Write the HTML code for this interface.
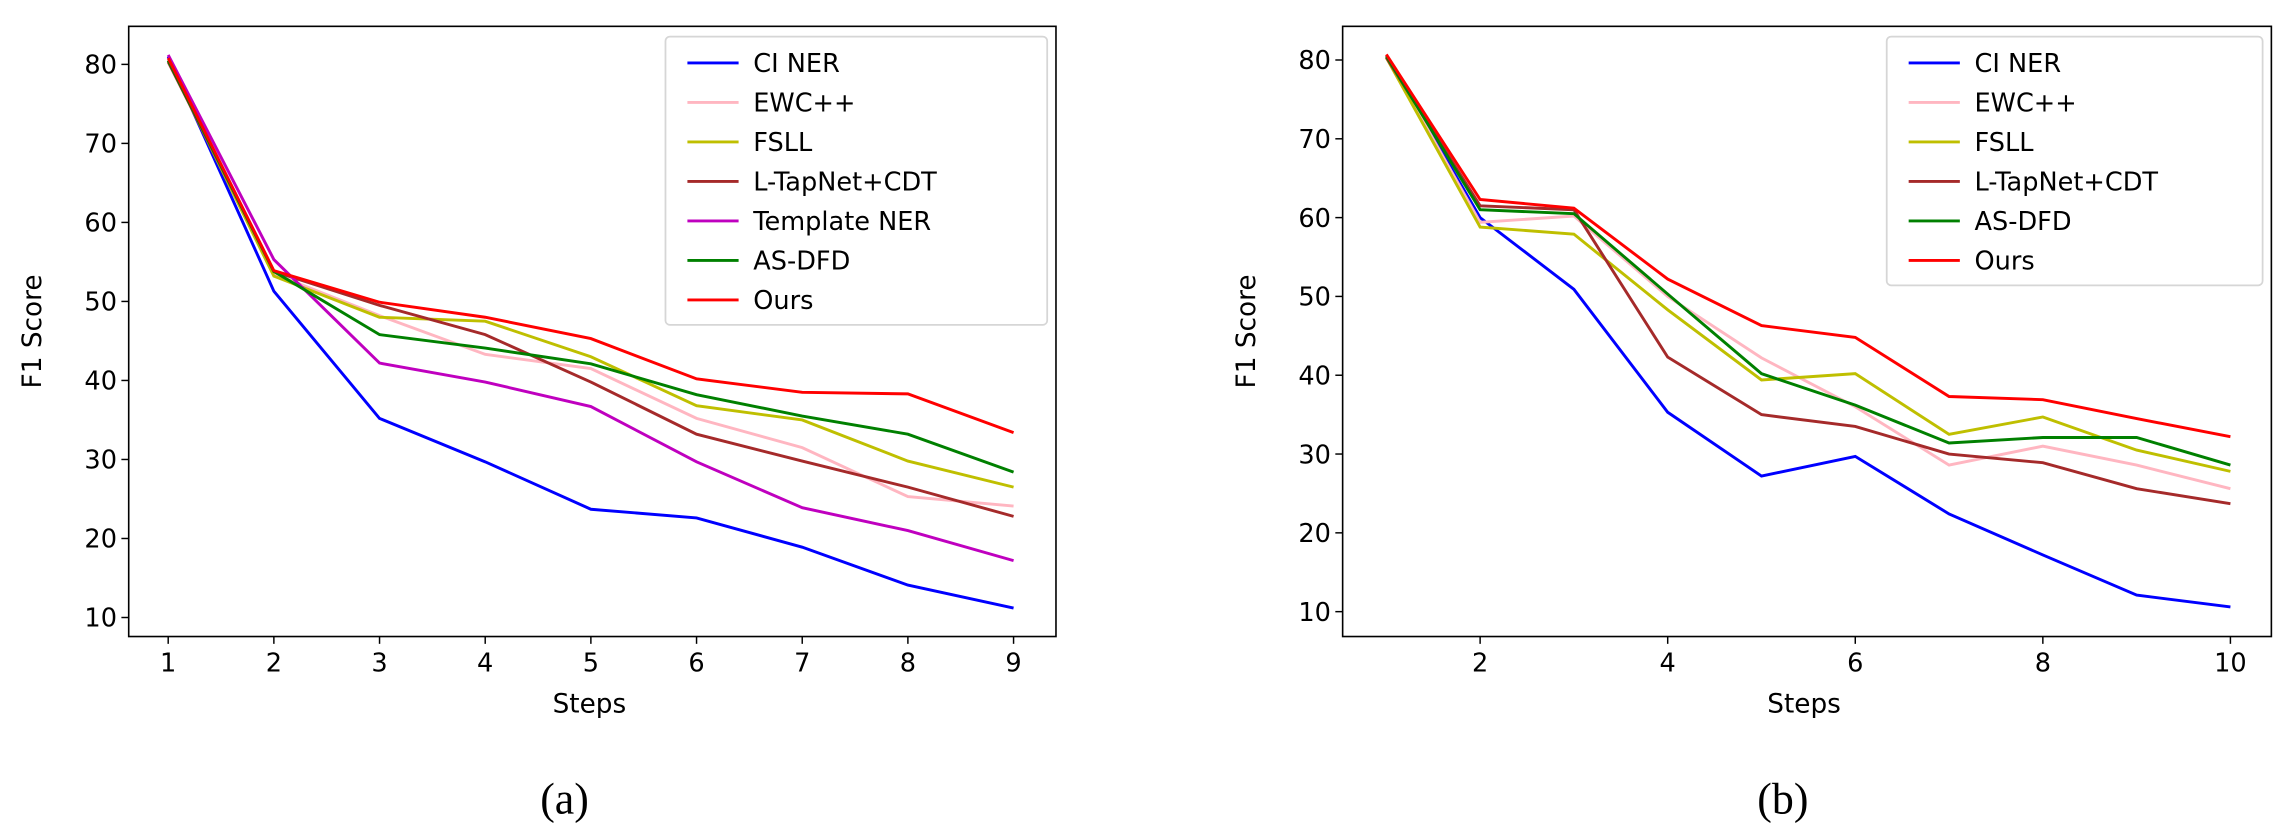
<!DOCTYPE html>
<html><head><meta charset="utf-8"><style>
html,body{margin:0;padding:0;background:#fff;}
svg{display:block;}
text{font-family:"DejaVu Sans","Liberation Sans",sans-serif;fill:#000;}
</style></head><body>
<svg id="fig" width="2286" height="837" viewBox="0 0 1563 572" preserveAspectRatio="none" xmlns="http://www.w3.org/2000/svg"></svg>
<script>
const seriesNames = ["CI NER","EWC++","FSLL","L-TapNet+CDT","Template NER","AS-DFD","Ours"];
const seriesColors = ["#0000ff","#ffb6c1","#bfbf00","#a52a2a","#bf00bf","#008000","#ff0000"];
const stepsA = [1,2,3,4,5,6,7,8,9];
const valuesA_CI = [81,51.3,35.2,29.7,23.7,22.6,18.9,14.1,11.2];
const valuesA_EWC = [80.5,53.5,48.2,43.3,41.5,35.2,31.5,25.3,24.1];
const valuesA_FSLL = [80.5,53.2,48,47.5,43,36.8,35,29.8,26.5];
const valuesA_LTap = [80.3,53.8,49.5,45.8,39.8,33.2,29.8,26.5,22.8];
const valuesA_Tmpl = [81.2,55.3,42.2,39.8,36.7,29.7,23.9,21,17.2];
const valuesA_ASDFD = [80.5,53.8,45.8,44.1,42.1,38.2,35.5,33.2,28.4];
const valuesA_Ours = [80.8,53.9,49.9,48,45.3,40.2,38.5,38.3,33.4];
const stepsB = [1,2,3,4,5,6,7,8,9,10];
const valuesB_CI = [80.5,60,50.9,35.3,27.2,29.7,22.4,17.2,12.1,10.6];
const valuesB_EWC = [80.5,59.4,60.2,50,42.2,36,28.6,31,28.6,25.6];
const valuesB_FSLL = [80.3,58.8,57.9,48.3,39.4,40.2,32.5,34.7,30.5,27.8];
const valuesB_LTap = [80.3,61.5,61,42.3,35,33.5,30,28.9,25.6,23.7];
const valuesB_ASDFD = [80.5,61,60.5,50.3,40.2,36.2,31.4,32.1,32.1,28.6];
const valuesB_Ours = [80.7,62.3,61.2,52.2,46.3,44.8,37.3,36.9,34.5,32.2];
const xTicksA = [1,2,3,4,5,6,7,8,9];
const xTicksB = [2,4,6,8,10];
const yTicks = [10,20,30,40,50,60,70,80];

const NS="http://www.w3.org/2000/svg";
const svg=document.getElementById('fig');
function mk(tag,attrs,parent){const e=document.createElementNS(NS,tag);for(const k in attrs)e.setAttribute(k,attrs[k]);(parent||svg).appendChild(e);return e;}

function panel(cfg){
  const g=mk('g',{});
  
  
  const xs=v=>cfg.x0px+(v-cfg.x0v)*(cfg.x1px-cfg.x0px)/(cfg.x1v-cfg.x0v);
  const ys=v=>cfg.y10+(v-10)*(cfg.y80-cfg.y10)/70;
  cfg.series.forEach((s,i)=>{
    const d=s.vals.map((v,j)=>(j?'L':'M')+xs(cfg.steps[j]).toFixed(2)+' '+ys(v).toFixed(2)).join(' ');
    const p=mk('path',{d:d,fill:'none',stroke:s.color,'stroke-width':2,'stroke-linejoin':'miter'},g);
    
    
  });
  const fr=mk('rect',{x:cfg.L,y:cfg.T,width:cfg.R-cfg.L,height:cfg.B-cfg.T,fill:'none',stroke:'#000','stroke-width':1.1},g);
  
  
  cfg.xTicks.forEach(t=>{
    const x=xs(t);
    mk('line',{x1:x,x2:x,y1:cfg.B,y2:cfg.B+5,stroke:'#000','stroke-width':1},g);
    const tx=mk('text',{x:x,y:cfg.B+24,'font-size':17.5,'text-anchor':'middle'},g);
    tx.textContent=t;
    
    
  });
  yTicks.forEach(t=>{
    const y=ys(t);
    mk('line',{x1:cfg.L,x2:cfg.L-5,y1:y,y2:y,stroke:'#000','stroke-width':1},g);
    const tx=mk('text',{x:cfg.L-8,y:y+6.3,'font-size':17.5,'text-anchor':'end'},g);
    tx.textContent=t;
    
    
  });
  const xl=mk('text',{x:(cfg.L+cfg.R)/2-2,y:487,'font-size':18,'text-anchor':'middle'},g);
  xl.textContent='Steps';
  
  
  const yl=mk('text',{x:0,y:0,'font-size':18,'text-anchor':'middle',transform:`translate(${cfg.L-60},${(cfg.T+cfg.B)/2}) rotate(-90)`},g);
  yl.textContent='F1 Score';
  
  
  const lg=mk('g',{},g);
  
  
  const n=cfg.series.length;
  mk('rect',{x:cfg.legX,y:25,width:cfg.legW,height:n*27+8,rx:3,fill:'#fff','fill-opacity':0.85,stroke:'#d6d6d6','stroke-width':1.2},lg);
  cfg.series.forEach((s,i)=>{
    const y=43+i*27;
    const e=mk('g',{},lg);
    
    
    mk('line',{x1:cfg.legX+15,x2:cfg.legX+50,y1:y,y2:y,stroke:s.color,'stroke-width':2},e);
    const t=mk('text',{x:cfg.legX+60,y:y+6.3,'font-size':17.5},e);
    t.textContent=s.label;
  });
  const cap=mk('text',{x:cfg.capX,y:556,'font-size':30,'text-anchor':'middle',style:'font-family:"Liberation Serif",serif'},g);
  cap.textContent=cfg.caption;
  
  
}

const keys=["ci-ner","ewc","fsll","l-tapnet-cdt","template-ner","as-dfd","ours"];
const aVals=[valuesA_CI,valuesA_EWC,valuesA_FSLL,valuesA_LTap,valuesA_Tmpl,valuesA_ASDFD,valuesA_Ours];
panel({name:'chart-a',L:88,R:722,T:18,B:435,x0v:1,x1v:9,x0px:115,x1px:693,y80:44,y10:422,
  steps:stepsA,xTicks:xTicksA,legX:455,legW:261,caption:'(a)',capX:386,
  series:aVals.map((v,i)=>({vals:v,color:seriesColors[i],label:seriesNames[i],key:keys[i]}))});
const bVals=[valuesB_CI,valuesB_EWC,valuesB_FSLL,valuesB_LTap,valuesB_ASDFD,valuesB_Ours];
const bIdx=[0,1,2,3,5,6];
panel({name:'chart-b',L:918,R:1553,T:18,B:435,x0v:2,x1v:10,x0px:1012,x1px:1525,y80:41,y10:418,
  steps:stepsB,xTicks:xTicksB,legX:1290,legW:257,caption:'(b)',capX:1219,
  series:bVals.map((v,i)=>({vals:v,color:seriesColors[bIdx[i]],label:seriesNames[bIdx[i]],key:keys[bIdx[i]]}))});
</script>
</body></html>
